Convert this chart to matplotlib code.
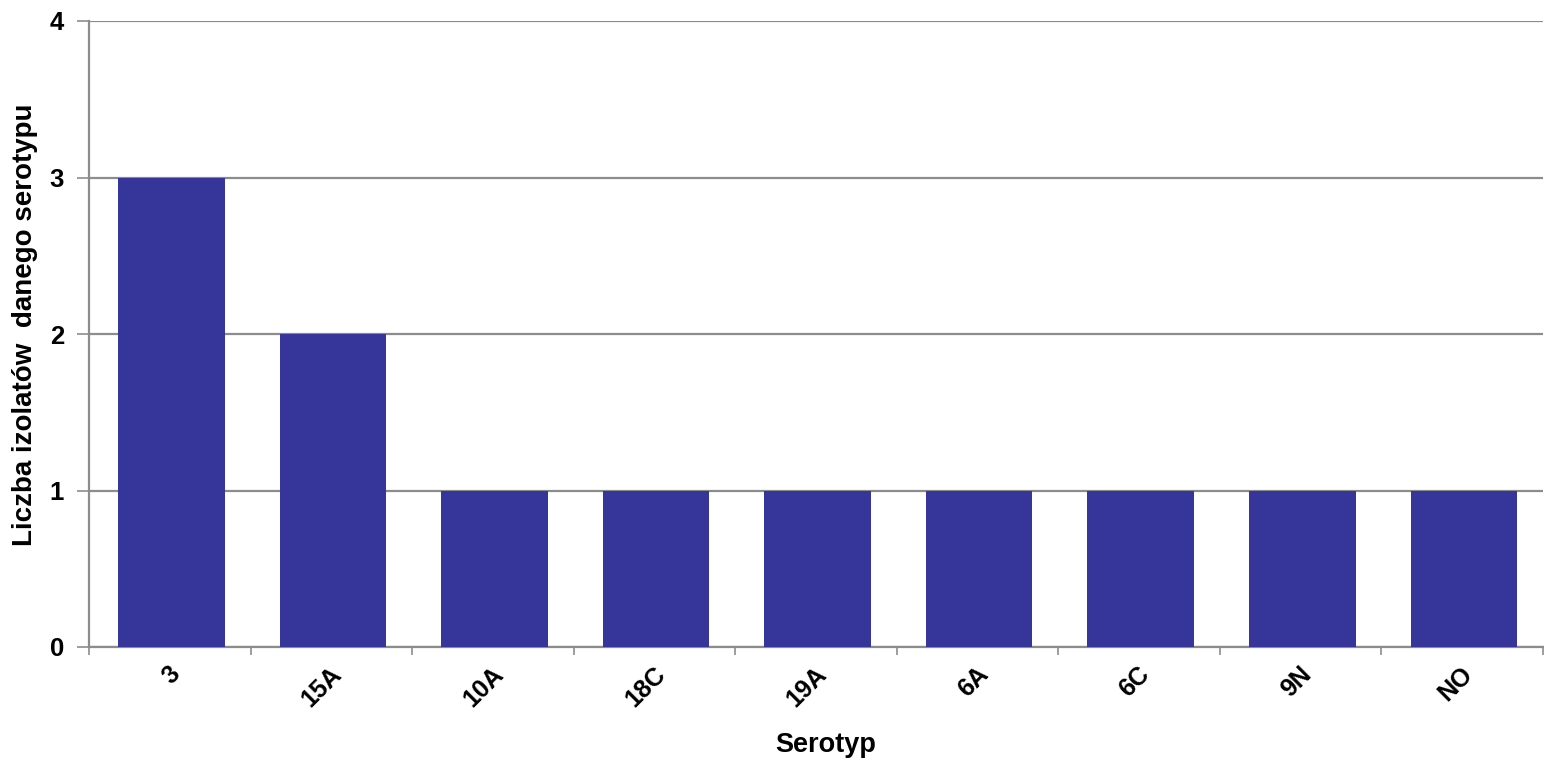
import numpy as np
import matplotlib.pyplot as plt
import matplotlib.transforms as mtransforms

# Dane: liczba izolatów wg serotypu
serotypes = ["3", "15A", "10A", "18C", "19A", "6A", "6C", "9N", "NO"]
counts = [3, 2, 1, 1, 1, 1, 1, 1, 1]

plt.rcParams.update({
    "font.family": ["Liberation Sans", "DejaVu Sans"],
    "font.weight": "bold",
    "font.size": 17,
})

BAR_COLOR = "#35359A"
AXIS_GRAY = "#8C8C8C"
W, H = 1544, 761

fig = plt.figure(figsize=(W / 100, H / 100), dpi=100)
ax = fig.add_axes([89 / W, 1 - 647 / H, (1543 - 89) / W, (647 - 21) / H])

x = np.arange(len(serotypes))
ax.bar(x + 0.01, counts, width=0.66, color=BAR_COLOR, zorder=3)

ax.set_xlim(-0.5, len(serotypes) - 0.5)
ax.set_ylim(0, 4)
ax.set_yticks([0, 1, 2, 3, 4])
ax.yaxis.grid(True, color=AXIS_GRAY, linewidth=1.6, zorder=0)

ax.set_xticks(x)
ax.set_xticklabels(serotypes, rotation=45, ha="right", va="center",
                   rotation_mode="anchor", fontweight="bold", fontsize=18)
ax.set_xticks(np.arange(-0.5, len(serotypes)), minor=True)
ax.tick_params(axis="x", which="major", length=0, pad=17)
ax.tick_params(axis="x", which="minor", length=6, width=1.2, color=AXIS_GRAY)
ax.tick_params(axis="y", length=9, width=1.2, color=AXIS_GRAY, pad=9, labelsize=18.5)

# przesunięcie etykiet osi X w prawo o kilka pikseli
shift = mtransforms.ScaledTranslation(7 / 100, 0, fig.dpi_scale_trans)
for lbl in ax.get_xticklabels():
    lbl.set_transform(lbl.get_transform() + shift)
for lbl in ax.get_yticklabels():
    lbl.set_fontweight("bold")

for side in ["top", "right"]:
    ax.spines[side].set_visible(False)
for side in ["left", "bottom"]:
    ax.spines[side].set_color(AXIS_GRAY)
    ax.spines[side].set_linewidth(1.6)

fig.text(826 / W, 1 - 745 / H, "Serotyp", ha="center", va="center",
         fontweight="bold", fontsize=19.5)
fig.text(25 / W, 1 - 325 / H, "Liczba izolatów  danego serotypu", ha="center",
         va="center", rotation=90, fontweight="bold", fontsize=20)

fig.savefig("out.png", dpi=100)
